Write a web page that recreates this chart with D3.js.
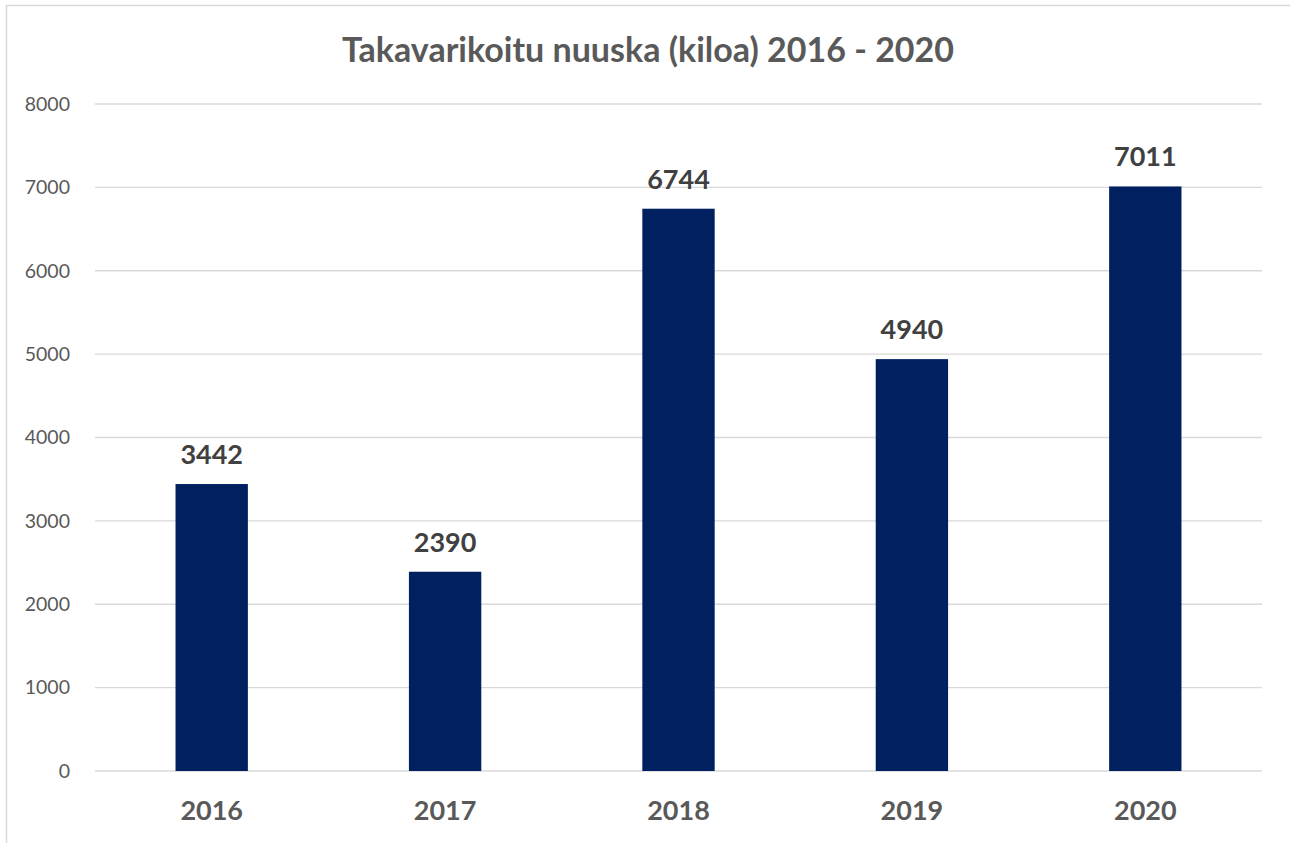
<!DOCTYPE html>
<html>
<head>
<meta charset="utf-8">
<script src="https://cdn.jsdelivr.net/npm/d3@7"></script>
<style>
  body { margin: 0; background: #fff; }
  svg { display: block; }
</style>
</head>
<body>
<svg id="chart"></svg>
<script>
// data
var years = ["2016", "2017", "2018", "2019", "2020"];
var kilos = [3442, 2390, 6744, 4940, 7011];
var yTicks = [0, 1000, 2000, 3000, 4000, 5000, 6000, 7000, 8000];
var chartTitle = "Takavarikoitu nuuska (kiloa) 2016 - 2020";

var W = 1290, H = 843;
var font = "Lato, 'Open Sans', sans-serif";

var svg = d3.select("#chart").attr("width", W).attr("height", H);

// outer frame (only left + top visible)
svg.append("rect")
  .attr("x", 6.5).attr("y", 5.5)
  .attr("width", W + 10).attr("height", H + 10)
  .attr("fill", "none")
  .attr("stroke", "#d9d9d9")
  .attr("stroke-width", 1.5);

var plotL = 95, plotR = 1262, plotT = 104, plotB = 771;

var x = d3.scaleBand().domain(years).range([plotL, plotR]).paddingInner(0.69).paddingOuter(0.345);
var y = d3.scaleLinear().domain([0, 8000]).range([plotB, plotT]);

// gridlines
svg.append("g").selectAll("line")
  .data(yTicks)
  .enter().append("line")
  .attr("x1", plotL).attr("x2", plotR)
  .attr("y1", function(d){ return y(d); })
  .attr("y2", function(d){ return y(d); })
  .attr("stroke", "#d9d9d9")
  .attr("stroke-width", 1.3);

// y axis labels
var yAxis = d3.axisLeft(y).tickValues(yTicks).tickSize(0).tickPadding(25).tickFormat(d3.format("d"));
svg.append("g")
  .attr("transform", "translate(" + plotL + ",0)")
  .call(yAxis)
  .call(function(g){ g.select(".domain").remove(); })
  .selectAll("text")
  .attr("font-family", font)
  .attr("font-size", 19.5)
  .attr("fill", "#595959");

// bars
svg.append("g").selectAll("rect")
  .data(kilos)
  .enter().append("rect")
  .attr("x", function(d, i){ return x(years[i]); })
  .attr("y", function(d){ return y(d); })
  .attr("width", x.bandwidth())
  .attr("height", function(d){ return y(0) - y(d); })
  .attr("fill", "#002060");

// value labels
svg.append("g").selectAll("text")
  .data(kilos)
  .enter().append("text")
  .attr("x", function(d, i){ return x(years[i]) + x.bandwidth() / 2; })
  .attr("y", function(d){ return y(d) - 20; })
  .attr("text-anchor", "middle")
  .attr("font-family", font)
  .attr("font-weight", "bold")
  .attr("font-size", 27)
  .attr("fill", "#404040")
  .text(function(d){ return d; });

// x axis labels
var xAxis = d3.axisBottom(x).tickSize(0).tickPadding(30);
svg.append("g")
  .attr("transform", "translate(0," + plotB + ")")
  .call(xAxis)
  .call(function(g){ g.select(".domain").remove(); })
  .selectAll("text")
  .attr("font-family", font)
  .attr("font-weight", "bold")
  .attr("font-size", 27)
  .attr("fill", "#595959");

// title
svg.append("text")
  .attr("x", 648).attr("y", 62)
  .attr("text-anchor", "middle")
  .attr("font-family", font)
  .attr("font-weight", "bold")
  .attr("font-size", 34)
  .attr("fill", "#595959")
  .text(chartTitle);
</script>
</body>
</html>
